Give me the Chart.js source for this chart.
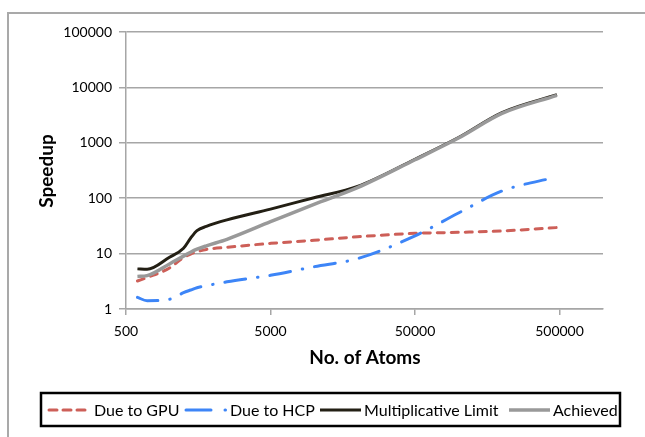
<!DOCTYPE html>
<html lang="en">
<head>
  <meta charset="UTF-8">
  <title>Speedup vs No. of Atoms</title>
  <script src="https://cdn.jsdelivr.net/npm/chart.js"></script>
  <style>
    body {
      margin: 0;
      background: #ffffff;
      overflow: hidden;
    }
    .wrap {
      position: relative;
      width: 645px;
      height: 437px;
    }
  </style>
</head>
<body>
  <div class="wrap">
    <canvas id="speedChart" width="645" height="437"></canvas>
  </div>

  <script>
    // values (log-log axes)
    const atoms = [600, 700, 1000, 1250, 1400, 1550, 1800, 2500, 5000, 10000, 20000, 50000, 100000, 200000, 480000];
    const dueToGpu = [3.2, 3.7, 5.5, 8.5, 9.8, 10.8, 11.9, 13.0, 15.3, 17.4, 20.1, 23.2, 24.2, 25.6, 29.5];
    const dueToHcp = [1.62, 1.41, 1.5, 1.97, 2.2, 2.42, 2.63, 3.1, 4.06, 5.8, 8.1, 20.9, 54, 135, 242];
    const multLimit = [5.3, 5.2, 8.6, 12.5, 19, 26, 31, 40.6, 63.5, 102, 163, 505, 1245, 3520, 7400];
    const achieved = [3.87, 4.0, 6.5, 9.0, 10.6, 12.0, 13.8, 18.1, 37.6, 77.6, 155, 495, 1220, 3400, 7200];

    const xTicks = [500, 5000, 50000, 500000];
    const yTicks = [1, 10, 100, 1000, 10000, 100000];

    const FONT = 'Lato, "Open Sans", sans-serif';
    const gridColor = '#a6a6a6';

    function pts(ys) {
      return atoms.map((x, i) => ({ x: x, y: ys[i] }));
    }

    // frame, axis titles and the boxed legend
    const decorations = {
      id: 'decorations',
      beforeDraw(chart) {
        const c = chart.ctx;
        c.save();
        c.strokeStyle = '#a9a9a9';
        c.lineWidth = 2;
        c.strokeRect(8, 13, 800, 600);
        c.restore();
      },
      afterDraw(chart) {
        const c = chart.ctx;
        c.save();
        c.fillStyle = '#000';
        c.font = 'bold 19px ' + FONT;
        c.textAlign = 'center';
        c.textBaseline = 'middle';
        c.fillText('No. of Atoms', 365, 358);
        c.translate(47, 171);
        c.rotate(-Math.PI / 2);
        c.fillText('Speedup', 0, 0);
        c.restore();

        // legend
        c.save();
        c.strokeStyle = '#000';
        c.lineWidth = 2.5;
        c.strokeRect(41, 393, 579, 33);
        const items = [
          { x1: 49, x2: 87, tx: 94, dash: [8, 6] },
          { x1: 186, x2: 227, tx: 230, dash: [25, 14, 0.5, 100] },
          { x1: 320, x2: 361, tx: 364 },
          { x1: 509, x2: 550, tx: 553 }
        ];
        const y = 410;
        chart.data.datasets.forEach((ds, i) => {
          const it = items[i];
          c.save();
          c.strokeStyle = ds.borderColor;
          c.lineWidth = ds.borderWidth;
          c.lineCap = ds.borderCapStyle || 'butt';
          c.setLineDash(it.dash || ds.borderDash || []);
          c.beginPath();
          c.moveTo(it.x1, y);
          c.lineTo(it.x2, y);
          c.stroke();
          c.restore();
          c.fillStyle = '#000';
          c.font = '16px ' + FONT;
          c.textAlign = 'left';
          c.textBaseline = 'middle';
          c.fillText(ds.label, it.tx, y + 1);
        });
        c.restore();
      }
    };

    const ctx = document.getElementById('speedChart').getContext('2d');
    new Chart(ctx, {
      type: 'line',
      data: {
        datasets: [
          {
            label: 'Due to GPU',
            data: pts(dueToGpu),
            borderColor: '#cd5f58',
            borderWidth: 3,
            borderDash: [7, 7],
            borderCapStyle: 'round',
            order: 4
          },
          {
            label: 'Due to HCP',
            data: pts(dueToHcp),
            borderColor: '#3d85f7',
            borderWidth: 3,
            borderDash: [21, 12, 0.5, 12],
            borderCapStyle: 'round',
            order: 3
          },
          {
            label: 'Multiplicative Limit',
            data: pts(multLimit),
            borderColor: '#231f14',
            borderWidth: 3,
            order: 2
          },
          {
            label: 'Achieved',
            data: pts(achieved),
            borderColor: '#999999',
            borderWidth: 3.5,
            order: 1
          }
        ]
      },
      options: {
        responsive: false,
        animation: false,
        layout: { padding: { left: 0, top: 32, right: 42, bottom: 0 } },
        elements: {
          point: { radius: 0 },
          line: { cubicInterpolationMode: 'monotone', fill: false }
        },
        scales: {
          x: {
            type: 'logarithmic',
            min: 500,
            max: 1000000,
            afterBuildTicks: s => { s.ticks = xTicks.map(v => ({ value: v })); },
            afterFit: s => { s.height = 437 - 309; },
            grid: {
              drawOnChartArea: false,
              drawTicks: true,
              tickLength: 6,
              color: gridColor,
              lineWidth: 1.5
            },
            border: { color: gridColor, width: 1.5 },
            ticks: {
              color: '#000',
              font: { family: FONT, size: 14 },
              padding: 8,
              maxRotation: 0,
              autoSkip: false,
              callback: v => String(v)
            }
          },
          y: {
            type: 'logarithmic',
            min: 1,
            max: 100000,
            afterBuildTicks: s => { s.ticks = yTicks.map(v => ({ value: v })); },
            afterFit: s => { s.width = 126; },
            grid: {
              color: gridColor,
              lineWidth: 1.5,
              tickLength: 7
            },
            border: { color: gridColor, width: 1.5 },
            ticks: {
              color: '#000',
              font: { family: FONT, size: 14 },
              padding: 7,
              autoSkip: false,
              callback: v => String(v)
            }
          }
        },
        plugins: {
          legend: { display: false },
          tooltip: { enabled: false }
        }
      },
      plugins: [decorations]
    });
  </script>
</body>
</html>
